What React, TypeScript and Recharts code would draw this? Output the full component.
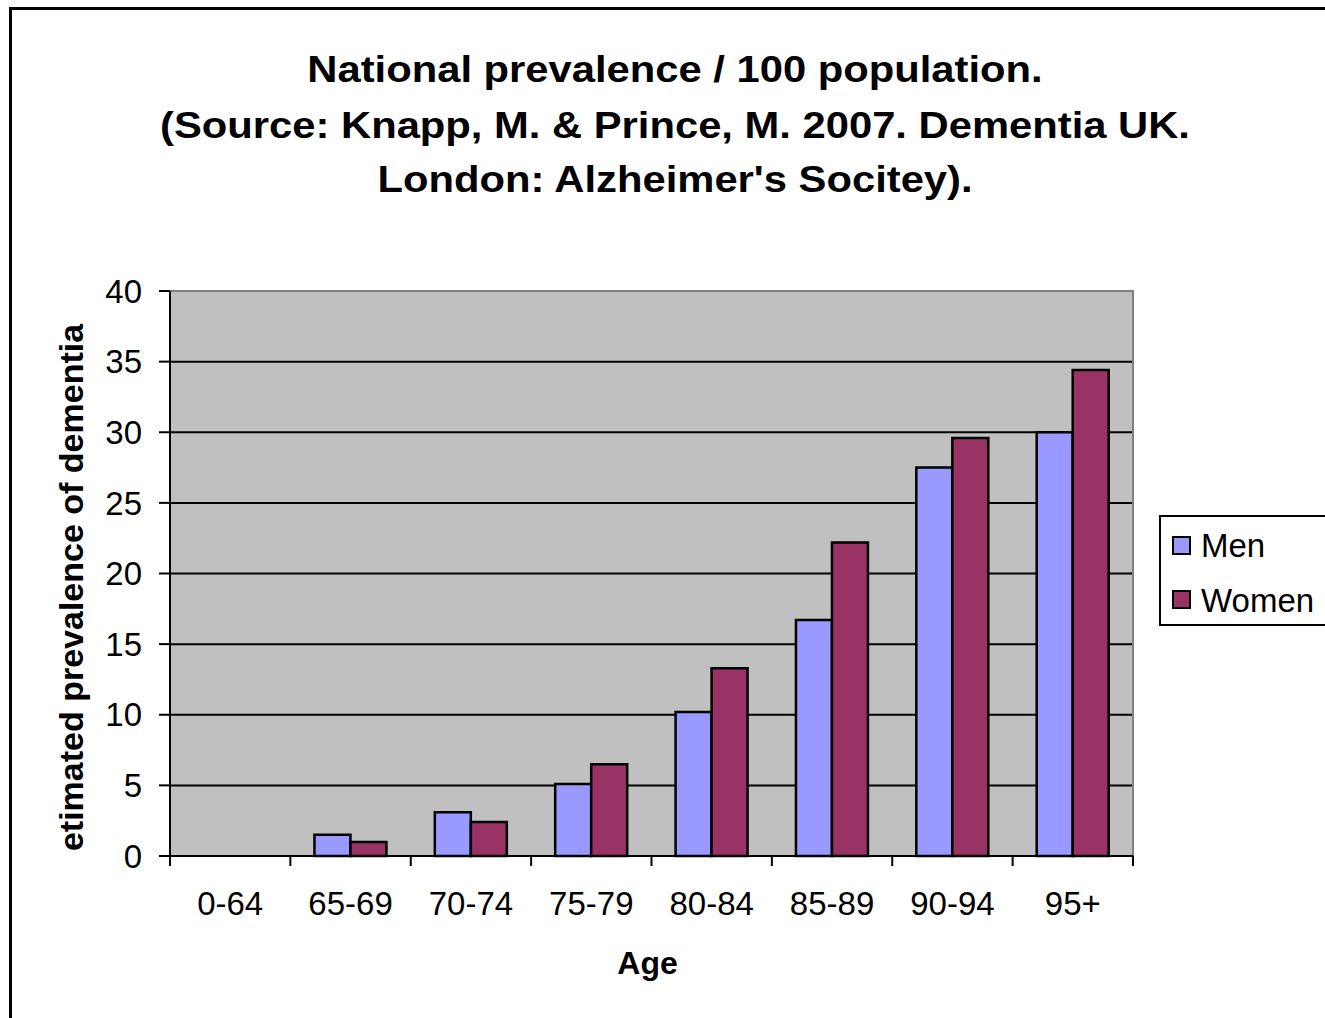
import React from 'react';
import { BarChart, Bar, XAxis, YAxis, CartesianGrid, Legend, ReferenceArea, Label } from 'recharts';

const ageGroups = ['0-64', '65-69', '70-74', '75-79', '80-84', '85-89', '90-94', '95+'];
const menValues = [0, 1.5, 3.1, 5.1, 10.2, 16.7, 27.5, 30.0];
const womenValues = [0, 1.0, 2.4, 6.5, 13.3, 22.2, 29.6, 34.4];
const yTicks = [0, 5, 10, 15, 20, 25, 30, 35, 40];
const titleLines = [
  'National prevalence / 100 population.',
  '(Source: Knapp, M. & Prince, M. 2007. Dementia UK.',
  "London: Alzheimer's Socitey).",
];
const xAxisTitle = 'Age';
const yAxisTitle = 'etimated prevalence of dementia';

const data = ageGroups.map((age, i) => ({ age, Men: menValues[i], Women: womenValues[i] }));

const FONT = '"Liberation Sans", Arial, Helvetica, sans-serif';
const TITLE_BASELINES = [82, 138, 192];
const X_TICK_MARGIN = 36;
const X_TICK_LEN = 10;

const renderLegend = (props: any) => {
  const payload = props.payload || [];
  return (
    <svg width={190} height={111} style={{ display: 'block' }}>
      <rect x={1} y={1} width={200} height={109} fill="#fff" stroke="#000" strokeWidth={2} />
      {payload.map((entry: any, i: number) => (
        <g key={i}>
          <rect x={14} y={22 + i * 54} width={17} height={17} fill={entry.color} stroke="#000" strokeWidth={2} />
          <text x={42} y={42 + i * 54.5} fontSize={33} fontFamily={FONT} fill="#000">
            {entry.value}
          </text>
        </g>
      ))}
    </svg>
  );
};

// Category tick: label at band centre, tick marks at band boundaries (Excel style)
const CategoryTick = (props: any) => {
  const { x, y, payload } = props;
  const half = payload && typeof payload.offset === 'number' ? payload.offset : 0;
  const axisY = y - X_TICK_MARGIN;
  const isLast = payload.value === ageGroups[ageGroups.length - 1];
  return (
    <g>
      <line x1={x - half} x2={x - half} y1={axisY} y2={axisY + X_TICK_LEN} stroke="#000" strokeWidth={2} />
      {isLast && (
        <line x1={x + half} x2={x + half} y1={axisY} y2={axisY + X_TICK_LEN} stroke="#000" strokeWidth={2} />
      )}
      <text x={x} y={y} dy="0.71em" textAnchor="middle" fontSize={33} fontFamily={FONT} fill="#000">
        {payload.value}
      </text>
    </g>
  );
};

export default function App() {
  return (
    <div
      style={{
        position: 'fixed',
        left: 0,
        top: 0,
        width: 1325,
        height: 1018,
        overflow: 'hidden',
        background: '#fff',
      }}
    >
      <div
        style={{
          position: 'absolute',
          left: 9,
          top: 7,
          width: 1400,
          height: 1100,
          border: '3px solid #000',
          boxSizing: 'border-box',
        }}
      />
      <svg width={1325} height={240} style={{ position: 'absolute', left: 0, top: 0 }}>
        {titleLines.map((line, i) => (
          <text
            key={i}
            x={0}
            y={0}
            transform={`translate(675 ${TITLE_BASELINES[i]}) scale(1.16 1)`}
            textAnchor="middle"
            fontSize={36}
            fontWeight="bold"
            fontFamily={FONT}
            fill="#000"
          >
            {line}
          </text>
        ))}
      </svg>
      <div style={{ position: 'absolute', left: 0, top: 0 }}>
        <BarChart
          width={1325}
          height={1018}
          data={data}
          margin={{ top: 291, right: 192, bottom: 161, left: 169 }}
          barGap={0}
          barCategoryGap="20%"
        >
          <CartesianGrid vertical={false} stroke="#000" strokeWidth={2} fill="#C0C0C0" fillOpacity={1} />
          <ReferenceArea y1={0} y2={40} fill="none" stroke="#808080" strokeWidth={2} ifOverflow="visible" />
          <XAxis
            dataKey="age"
            height={1}
            interval={0}
            axisLine={{ stroke: '#000', strokeWidth: 2 }}
            tickLine={false}
            tickSize={0}
            tickMargin={X_TICK_MARGIN}
            tick={CategoryTick}
          >
            <Label
              value={xAxisTitle}
              position="bottom"
              offset={94}
              dx={-4}
              style={{ fontSize: 32, fontWeight: 'bold', fill: '#000', fontFamily: FONT }}
            />
          </XAxis>
          <YAxis
            domain={[0, 40]}
            ticks={yTicks}
            width={1}
            interval={0}
            tickSize={11}
            tickMargin={17}
            axisLine={{ stroke: '#000', strokeWidth: 2 }}
            tickLine={{ stroke: '#000', strokeWidth: 2 }}
            tick={{ fill: '#000', fontSize: 33, fontFamily: FONT }}
          >
            <Label
              value={yAxisTitle}
              angle={-90}
              position="center"
              dx={-99}
              dy={14}
              style={{ fontSize: 34, fontWeight: 'bold', fill: '#000', fontFamily: FONT }}
            />
          </YAxis>
          <Legend
            layout="vertical"
            align="center"
            verticalAlign="middle"
            content={renderLegend}
            wrapperStyle={{ position: 'absolute', left: 1159, top: 515, width: 190, height: 111 }}
          />
          <Bar dataKey="Men" fill="#9999FF" stroke="#000" strokeWidth={2.5} isAnimationActive={false} />
          <Bar dataKey="Women" fill="#993366" stroke="#000" strokeWidth={2.5} isAnimationActive={false} />
        </BarChart>
      </div>
    </div>
  );
}
